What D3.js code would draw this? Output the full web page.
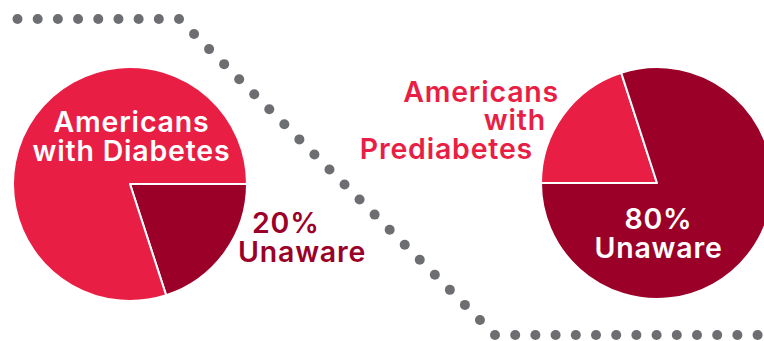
<!DOCTYPE html>
<html>
<head>
<meta charset="utf-8">
<script src="https://cdn.jsdelivr.net/npm/d3@7"></script>
<style>
  body { margin: 0; background: #fff; }
  text { font-family: Inter, Roboto, sans-serif; font-weight: 600; font-size: 28.5px; letter-spacing: 0.8px; }
</style>
</head>
<body>
<div id="chart"></div>
<script>
const groups = ["Americans with Diabetes", "Americans with Prediabetes"]
const awarePct = [80, 20]
const unawarePct = [20, 80]
const groupLines = [["Americans", "with Diabetes"], ["Americans", "with", "Prediabetes"]]
const unawareLines = [["20%", "Unaware"], ["80%", "Unaware"]]

// corners of the dotted divider
const dividerX = [17.5, 179, 495, 780]
const dividerY = [19, 19, 335, 335]

const lightRed = "#E91E45"
const darkRed = "#9B0029"
const dotGrey = "#6D6E71"

const width = 764, height = 341

const svg = d3.select("#chart").append("svg")
    .attr("width", width).attr("height", height)

// dotted divider, dots spaced along each segment
const dotGap = [20.19, 21.28, 20.2]
let dots = []
for (let s = 0; s < dividerX.length - 1; s++) {
    const len = Math.hypot(dividerX[s+1] - dividerX[s], dividerY[s+1] - dividerY[s])
    const sx = d3.scaleLinear().domain([0, len]).range([dividerX[s], dividerX[s+1]])
    const sy = d3.scaleLinear().domain([0, len]).range([dividerY[s], dividerY[s+1]])
    d3.range(s == 0 ? 0 : 1, Math.floor(len / dotGap[s] + 0.01) + 1).forEach(k => {
        dots.push([sx(k * dotGap[s]), sy(k * dotGap[s])])
    })
}
svg.append("g").selectAll("circle")
    .data(dots)
    .enter()
    .append("circle")
    .attr("cx", d => d[0]).attr("cy", d => d[1])
    .attr("r", 5)
    .attr("fill", dotGrey)

// pies
const pieSetup = [
    {cx: 130, cy: 184, r: 117, start: Math.PI / 2, unawareFirst: true},
    {cx: 657, cy: 183, r: 116, start: Math.PI * 1.5, unawareFirst: false}
]

groups.forEach((g, i) => {
    const p = pieSetup[i]
    let slices = [
        {key: "aware", v: awarePct[i], color: lightRed},
        {key: "unaware", v: unawarePct[i], color: darkRed}
    ]
    if (p.unawareFirst) slices.reverse()

    const pie = d3.pie().sort(null).value(d => d.v)
        .startAngle(p.start).endAngle(p.start + Math.PI * 2)
    const arc = d3.arc().innerRadius(0).outerRadius(p.r)

    svg.append("g")
        .attr("transform", `translate(${p.cx},${p.cy})`)
        .selectAll("path")
        .data(pie(slices))
        .enter()
        .append("path")
        .attr("d", arc)
        .attr("fill", d => d.data.color)
        .attr("stroke", "#fff")
        .attr("stroke-width", 2)
        .attr("stroke-linejoin", "round")
})

// labels, left pie
const lab = svg.append("g")
groupLines[0].forEach((t, j) => {
    lab.append("text").text(t)
        .attr("x", 131.5).attr("y", 131.5 + j * 29)
        .attr("text-anchor", "middle").attr("fill", "#fff")
})
const leftUnX = [252, 238]
unawareLines[0].forEach((t, j) => {
    lab.append("text").text(t)
        .attr("x", leftUnX[j]).attr("y", 233 + j * 29)
        .attr("fill", darkRed)
})

// labels, right pie
const rightEndX = [559, 546, 533]
groupLines[1].forEach((t, j) => {
    lab.append("text").text(t)
        .attr("x", rightEndX[j]).attr("y", 101.5 + j * 28.5)
        .attr("text-anchor", "end").attr("fill", lightRed)
})
unawareLines[1].forEach((t, j) => {
    lab.append("text").text(t)
        .attr("x", 658.5).attr("y", 229 + j * 28.5)
        .attr("text-anchor", "middle").attr("fill", "#fff")
})
</script>
</body>
</html>
